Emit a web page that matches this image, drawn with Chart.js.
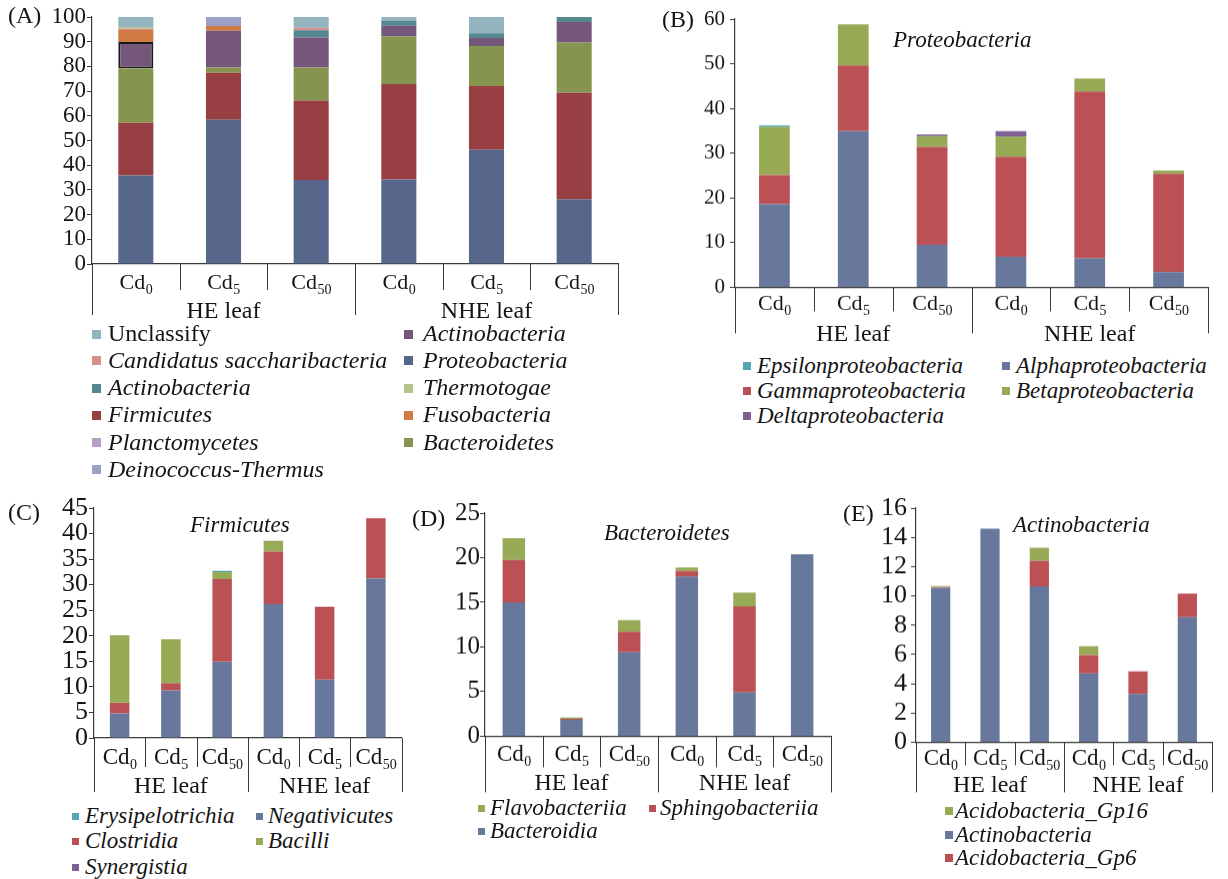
<!DOCTYPE html>
<html>
<head>
<meta charset="utf-8">
<title>Leaf endophytic bacterial composition under Cd treatment</title>
<script src="https://cdn.jsdelivr.net/npm/chart.js@4.4.1/dist/chart.umd.min.js"></script>
<style>
  html, body { margin: 0; padding: 0; background: #fff; }
  body { width: 1228px; height: 879px; position: relative; overflow: hidden;
         font-family: "Liberation Serif", Tinos, "DejaVu Serif", "Noto Serif", "Times New Roman", Times, serif; color: #141414; }
  .panel { position: absolute; }
  .tag { position: absolute; font-size: 24px; line-height: 1; white-space: nowrap; }
  .title { position: absolute; font-size: 23px; font-style: italic; line-height: 1; white-space: nowrap; }
  .legend-item { position: absolute; white-space: nowrap; line-height: 1; }
  .legend-sw { position: absolute; }
</style>
</head>
<body>
<div class="panel" id="pA"><canvas id="cA"></canvas></div>
<div class="panel" id="pB"><canvas id="cB"></canvas></div>
<div class="panel" id="pC"><canvas id="cC"></canvas></div>
<div class="panel" id="pD"><canvas id="cD"></canvas></div>
<div class="panel" id="pE"><canvas id="cE"></canvas></div>

<div class="tag" style="left:8px;top:3px">(A)</div>
<div class="tag" style="left:662px;top:7px">(B)</div>
<div class="tag" style="left:8px;top:500px">(C)</div>
<div class="tag" style="left:412px;top:506px">(D)</div>
<div class="tag" style="left:843px;top:501px">(E)</div>

<div class="title" style="left:893px;top:28px">Proteobacteria</div>
<div class="title" style="left:190px;top:513px">Firmicutes</div>
<div class="title" style="left:604px;top:521px">Bacteroidetes</div>
<div class="title" style="left:1013px;top:513px">Actinobacteria</div>

<script>
// ---- categories -------------------------------------------------------
const groups = ['HE leaf', 'NHE leaf'];
const doses = ['0', '5', '50', '0', '5', '50'];          // Cd dose, shown as subscript
const categoryLabels = doses.map(d => 'Cd' + d);

// ---- (A) phylum level, relative abundance (%) -------------------------
const aProteobacteria   = [35.8, 58.4, 34.0, 34.2, 46.3, 26.2];
const aFirmicutes       = [21.4, 19.0, 32.2, 38.7, 25.8, 43.1];
const aBacteroidetes    = [22.0, 2.2, 13.4, 19.2, 16.2, 20.4];
const aActinobacteria   = [10.7, 14.8, 12.1, 4.4, 3.2, 8.3];
const aFusobacteria     = [4.8, 2.0, 0, 0, 0, 0];
const aActinobacteria2  = [0, 0, 2.9, 1.9, 1.9, 2.0];
const aCandidatus       = [0.5, 0, 1.0, 0, 0, 0];
const aThermotogae      = [0.8, 0, 0, 0, 0, 0];
const aDeinococcus      = [0, 3.6, 0, 0, 0, 0];
const aPlanctomycetes   = [0, 0, 0, 0, 0, 0];
const aUnclassify       = [4.0, 0, 4.4, 1.6, 6.6, 0];

// ---- (B) Proteobacteria classes ---------------------------------------
const bAlpha   = [18.6, 34.9, 9.5, 6.8, 6.5, 3.4];
const bGamma   = [6.5, 14.7, 21.9, 22.4, 37.3, 22.0];
const bBeta    = [10.8, 9.2, 2.4, 4.5, 2.9, 0.7];
const bDelta   = [0, 0, 0.4, 1.2, 0, 0];
const bEpsilon = [0.3, 0, 0, 0, 0, 0];

// ---- (C) Firmicutes classes -------------------------------------------
const cNegativicutes    = [4.8, 9.3, 14.9, 26.2, 11.4, 31.2];
const cClostridia       = [2.1, 1.4, 16.2, 10.3, 14.3, 11.8];
const cBacilli          = [13.2, 8.6, 1.4, 2.1, 0, 0];
const cErysipelotrichia = [0, 0, 0.2, 0, 0, 0];
const cSynergistia      = [0, 0, 0, 0, 0, 0];

// ---- (D) Bacteroidetes classes ----------------------------------------
const dBacteroidia      = [15.0, 1.85, 9.4, 17.9, 4.9, 20.4];
const dSphingobacteriia = [4.75, 0.1, 2.3, 0.6, 9.65, 0];
const dFlavobacteriia   = [2.45, 0.15, 1.3, 0.4, 1.55, 0];

// ---- (E) Actinobacteria / Acidobacteria -------------------------------
const eActinobacteria = [10.55, 14.6, 10.65, 4.7, 3.3, 8.55];
const eGp6            = [0.05, 0, 1.75, 1.25, 1.55, 1.6];
const eGp16           = [0.07, 0, 0.9, 0.6, 0, 0];

// ---- shared styling ---------------------------------------------------
const SERIF = '"Liberation Serif", Tinos, "DejaVu Serif", "Noto Serif", "Times New Roman", Times, serif';
const AXIS = '#3a3a3a';
const TEXT = '#141414';
const PT = 20, PR = 6, XH = 64;

const BLUE = '#67789c', RED = '#bb5155', GREEN = '#97ab57', PURPLE = '#7e6096', TEAL = '#55a7b8';

// Two-level category axis: dose labels with subscripts, group labels, separators.
const categoryAxis = {
  id: 'categoryAxis',
  afterDraw(chart, _args, o) {
    const { ctx, chartArea: a, scales: { x } } = chart;
    const n = chart.data.labels.length;
    const centers = [];
    for (let i = 0; i < n; i++) centers.push(x.getPixelForValue(i));
    const half = (centers[1] - centers[0]) / 2;
    const per = n / groups.length;
    ctx.save();
    ctx.strokeStyle = AXIS;
    ctx.lineWidth = 1;
    for (let i = 0; i <= n; i++) {
      const bx = i < n ? centers[i] - half : centers[n - 1] + half;
      const len = i % per === 0 ? o.longLen : o.shortLen;
      const px = Math.round(bx) + 0.5;
      ctx.beginPath();
      ctx.moveTo(px, a.bottom);
      ctx.lineTo(px, a.bottom + len);
      ctx.stroke();
    }
    ctx.fillStyle = TEXT;
    ctx.textBaseline = 'alphabetic';
    ctx.textAlign = 'left';
    const mainFont = `${o.catSize}px ${SERIF}`;
    const subFont = `${o.subSize}px ${SERIF}`;
    const by = a.bottom + o.catBase;
    centers.forEach((cx, i) => {
      ctx.font = mainFont;
      const w1 = ctx.measureText('Cd').width;
      ctx.font = subFont;
      const w2 = ctx.measureText(doses[i]).width;
      const x0 = cx - (w1 + w2) / 2;
      ctx.font = mainFont;
      ctx.fillText('Cd', x0, by);
      ctx.font = subFont;
      ctx.fillText(doses[i], x0 + w1 + 0.5, by + o.subDrop);
    });
    ctx.font = `${o.groupSize}px ${SERIF}`;
    ctx.textAlign = 'center';
    groups.forEach((g, gi) => {
      const gx = (centers[gi * per] + centers[gi * per + per - 1]) / 2;
      ctx.fillText(g, gx, a.bottom + o.groupBase);
    });
    ctx.restore();
  }
};

function stackedPanel(panelId, canvasId, spec) {
  const div = document.getElementById(panelId);
  const { area, yW } = spec;
  div.style.left = (area.l - yW) + 'px';
  div.style.top = (area.t - PT) + 'px';
  div.style.width = (area.r - area.l + yW + PR) + 'px';
  div.style.height = (area.b - area.t + PT + XH) + 'px';

  return new Chart(document.getElementById(canvasId), {
    type: 'bar',
    data: { labels: categoryLabels, datasets: spec.datasets },
    options: {
      responsive: true,
      maintainAspectRatio: false,
      animation: false,
      layout: { padding: { top: PT, right: PR, left: 0, bottom: 0 } },
      datasets: { bar: { barPercentage: spec.barPct, categoryPercentage: 1, borderWidth: 0 } },
      plugins: {
        legend: { display: false },
        tooltip: { enabled: false },
        categoryAxis: spec.axisText
      },
      scales: {
        x: {
          stacked: true,
          offset: true,
          grid: { display: false },
          border: { display: true, color: AXIS, width: 1.2 },
          ticks: { display: false },
          afterFit: s => { s.height = XH; }
        },
        y: {
          stacked: true,
          min: 0,
          max: spec.yMax,
          ticks: {
            stepSize: spec.yStep,
            autoSkip: false,
            color: TEXT,
            padding: spec.tickPad,
            font: { family: SERIF, size: spec.tickFont }
          },
          grid: { display: true, drawOnChartArea: false, drawTicks: true, tickLength: 5, color: AXIS },
          border: { display: true, color: AXIS, width: 1.2 },
          afterFit: s => { s.width = yW; }
        }
      }
    },
    plugins: [categoryAxis]
  });
}

// Legend built from the chart's own datasets, placed in columns.
function buildLegend(chart, slots, lay) {
  const byKey = {};
  chart.data.datasets.forEach(ds => { byKey[ds.key] = ds; });
  slots.forEach(([key, col, row]) => {
    const ds = byKey[key];
    const y = lay.rows[row];
    const [sqX, txX] = lay.cols[col];
    const sw = document.createElement('div');
    sw.className = 'legend-sw';
    sw.style.cssText = `left:${sqX}px;top:${y - lay.sq / 2 + 1}px;width:${lay.sq}px;height:${lay.sq}px;background:${ds.backgroundColor}`;
    const tx = document.createElement('div');
    tx.className = 'legend-item';
    tx.textContent = ds.label;
    tx.style.cssText = `left:${txX}px;top:${y - lay.size / 2}px;font-size:${lay.size}px;font-style:${ds.italic === false ? 'normal' : 'italic'}`;
    document.body.appendChild(sw);
    document.body.appendChild(tx);
  });
}

// ---- (A) ---------------------------------------------------------------
const chartA = stackedPanel('pA', 'cA', {
  area: { l: 92, t: 17, r: 618, b: 264 }, yW: 60,
  yMax: 100, yStep: 10, tickFont: 23, tickPad: 1, barPct: 0.40,
  axisText: { catSize: 22, subSize: 14, subDrop: 5, catBase: 25, groupSize: 24, groupBase: 54, shortLen: 26, longLen: 51 },
  datasets: [
    { key: 'prot', label: 'Proteobacteria', data: aProteobacteria, backgroundColor: '#56678b' },
    { key: 'firm', label: 'Firmicutes', data: aFirmicutes, backgroundColor: '#973f43' },
    { key: 'bact', label: 'Bacteroidetes', data: aBacteroidetes, backgroundColor: '#85944f' },
    { key: 'actP', label: 'Actinobacteria', data: aActinobacteria, backgroundColor: '#75577b',
      borderColor: '#1a1a1a', borderWidth: [2, 0, 0, 0, 0, 0], borderSkipped: false },
    { key: 'fuso', label: 'Fusobacteria', data: aFusobacteria, backgroundColor: '#d07b44' },
    { key: 'actT', label: 'Actinobacteria', data: aActinobacteria2, backgroundColor: '#55878f' },
    { key: 'cand', label: 'Candidatus saccharibacteria', data: aCandidatus, backgroundColor: '#d5908e' },
    { key: 'ther', label: 'Thermotogae', data: aThermotogae, backgroundColor: '#b5c48c' },
    { key: 'dein', label: 'Deinococcus-Thermus', data: aDeinococcus, backgroundColor: '#9ca0c4' },
    { key: 'plan', label: 'Planctomycetes', data: aPlanctomycetes, backgroundColor: '#b8a0c4' },
    { key: 'uncl', label: 'Unclassify', data: aUnclassify, backgroundColor: '#93b4be', italic: false }
  ]
});
buildLegend(chartA, [
  ['uncl', 0, 0], ['cand', 0, 1], ['actT', 0, 2], ['firm', 0, 3], ['plan', 0, 4], ['dein', 0, 5],
  ['actP', 1, 0], ['prot', 1, 1], ['ther', 1, 2], ['fuso', 1, 3], ['bact', 1, 4]
], { cols: [[92, 108], [404, 423]], rows: [333, 359.5, 387, 414, 441.5, 468.5], sq: 9, size: 24 });

// ---- (B) ---------------------------------------------------------------
const chartB = stackedPanel('pB', 'cB', {
  area: { l: 735, t: 19.3, r: 1208, b: 286.7 }, yW: 50,
  yMax: 60, yStep: 10, tickFont: 21, tickPad: 5, barPct: 0.39,
  axisText: { catSize: 22, subSize: 14, subDrop: 5, catBase: 23, groupSize: 24, groupBase: 54, shortLen: 24, longLen: 46 },
  datasets: [
    { key: 'alpha', label: 'Alphaproteobacteria', data: bAlpha, backgroundColor: BLUE },
    { key: 'gamma', label: 'Gammaproteobacteria', data: bGamma, backgroundColor: RED },
    { key: 'beta', label: 'Betaproteobacteria', data: bBeta, backgroundColor: GREEN },
    { key: 'delta', label: 'Deltaproteobacteria', data: bDelta, backgroundColor: PURPLE },
    { key: 'eps', label: 'Epsilonproteobacteria', data: bEpsilon, backgroundColor: TEAL }
  ]
});
buildLegend(chartB, [
  ['eps', 0, 0], ['gamma', 0, 1], ['delta', 0, 2], ['alpha', 1, 0], ['beta', 1, 1]
], { cols: [[743, 757], [1002, 1016]], rows: [365, 390, 415], sq: 8, size: 23 });

// ---- (C) ---------------------------------------------------------------
const chartC = stackedPanel('pC', 'cC', {
  area: { l: 93.5, t: 508.3, r: 401, b: 738.3 }, yW: 55,
  yMax: 45, yStep: 5, tickFont: 26, tickPad: 1, barPct: 0.38,
  axisText: { catSize: 23, subSize: 14, subDrop: 5, catBase: 26, groupSize: 24, groupBase: 55, shortLen: 29, longLen: 54 },
  datasets: [
    { key: 'neg', label: 'Negativicutes', data: cNegativicutes, backgroundColor: BLUE },
    { key: 'clo', label: 'Clostridia', data: cClostridia, backgroundColor: RED },
    { key: 'bac', label: 'Bacilli', data: cBacilli, backgroundColor: GREEN },
    { key: 'ery', label: 'Erysipelotrichia', data: cErysipelotrichia, backgroundColor: TEAL },
    { key: 'syn', label: 'Synergistia', data: cSynergistia, backgroundColor: PURPLE }
  ]
});
buildLegend(chartC, [
  ['ery', 0, 0], ['clo', 0, 1], ['syn', 0, 2], ['neg', 1, 0], ['bac', 1, 1]
], { cols: [[72, 85], [256, 268]], rows: [815, 840, 866], sq: 7, size: 23 });

// ---- (D) ---------------------------------------------------------------
const chartD = stackedPanel('pD', 'cD', {
  area: { l: 485, t: 513.3, r: 831, b: 735.7 }, yW: 55,
  yMax: 25, yStep: 5, tickFont: 25, tickPad: 0, barPct: 0.39,
  axisText: { catSize: 23, subSize: 14, subDrop: 5, catBase: 25, groupSize: 24, groupBase: 54, shortLen: 31, longLen: 56 },
  datasets: [
    { key: 'bcd', label: 'Bacteroidia', data: dBacteroidia, backgroundColor: BLUE },
    { key: 'sph', label: 'Sphingobacteriia', data: dSphingobacteriia, backgroundColor: RED },
    { key: 'fla', label: 'Flavobacteriia', data: dFlavobacteriia, backgroundColor: GREEN }
  ]
});
buildLegend(chartD, [
  ['fla', 0, 0], ['bcd', 0, 1], ['sph', 1, 0]
], { cols: [[478, 490], [649, 660]], rows: [807, 830], sq: 7, size: 23 });

// ---- (E) ---------------------------------------------------------------
const chartE = stackedPanel('pE', 'cE', {
  area: { l: 916, t: 508.3, r: 1212, b: 741.7 }, yW: 55,
  yMax: 16, yStep: 2, tickFont: 26, tickPad: 4, barPct: 0.39,
  axisText: { catSize: 23, subSize: 14, subDrop: 5, catBase: 23, groupSize: 24, groupBase: 50, shortLen: 23, longLen: 50 },
  datasets: [
    { key: 'act', label: 'Actinobacteria', data: eActinobacteria, backgroundColor: BLUE },
    { key: 'gp6', label: 'Acidobacteria_Gp6', data: eGp6, backgroundColor: RED },
    { key: 'gp16', label: 'Acidobacteria_Gp16', data: eGp16, backgroundColor: GREEN }
  ]
});
buildLegend(chartE, [
  ['gp16', 0, 0], ['act', 0, 1], ['gp6', 0, 2]
], { cols: [[945, 955]], rows: [810, 834, 857], sq: 8, size: 23 });
</script>
</body>
</html>
